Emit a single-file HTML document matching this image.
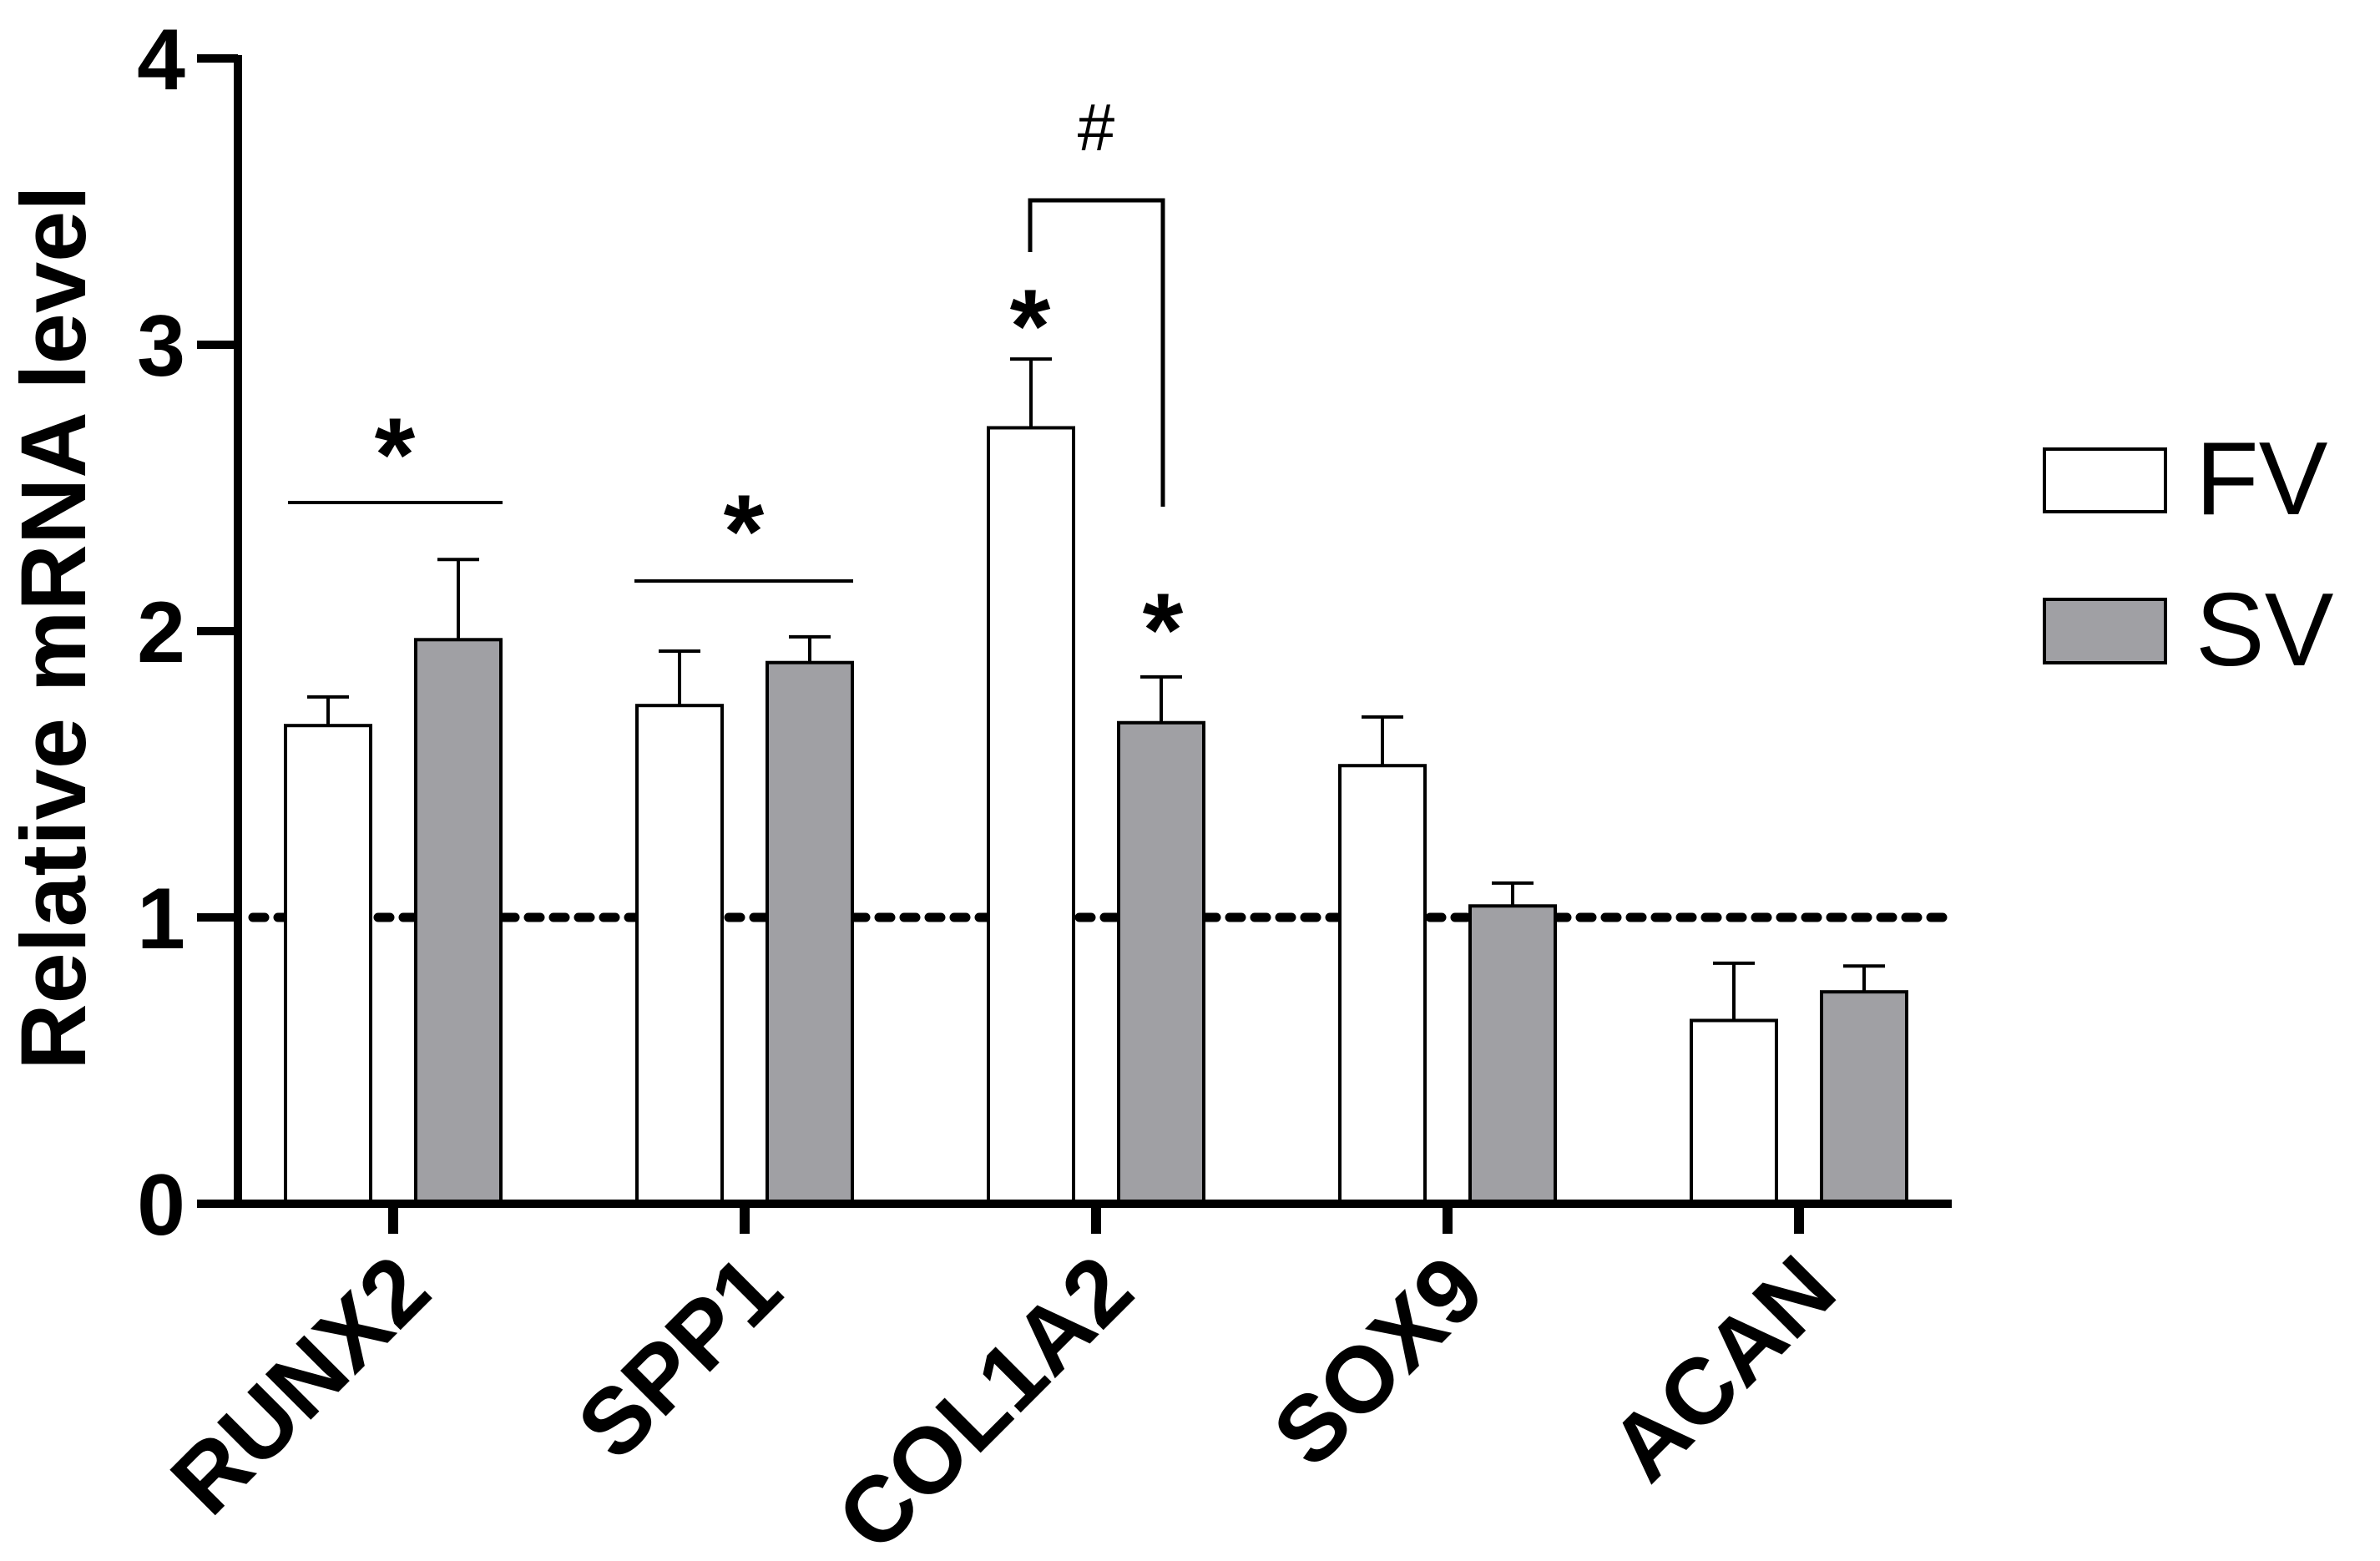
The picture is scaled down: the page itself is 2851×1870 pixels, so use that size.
<!DOCTYPE html>
<html><head><meta charset="utf-8"><style>body{margin:0;background:#fff}svg{display:block}</style></head>
<body>
<svg id="chart" width="2851" height="1870" xmlns="http://www.w3.org/2000/svg" font-family="Liberation Sans, Arial, sans-serif"></svg>
<script>
const categories = ["RUNX2","SPP1","COL1A2","SOX9","ACAN"];
const fvValues = [1.67,1.74,2.71,1.53,0.64];
const fvErrors = [0.10,0.19,0.24,0.17,0.20];
const svValues = [1.97,1.89,1.68,1.04,0.74];
const svErrors = [0.28,0.09,0.16,0.08,0.09];
const yTicks = [0,1,2,3,4];
const refLine = 1;

const NS="http://www.w3.org/2000/svg";
const svg=document.getElementById('chart');
const y0=1442, unit=343, x0=285, xEnd=2338;
const ys=v=>y0-v*unit;
const xs=i=>471+i*421;
function el(tag,attrs,parent){const e=document.createElementNS(NS,tag);for(const k in attrs)e.setAttribute(k,attrs[k]);(parent||svg).appendChild(e);return e;}

let rl=el('line',{x1:x0+18,x2:xEnd-8,y1:ys(refLine),y2:ys(refLine),stroke:'#000','stroke-width':11,'stroke-dasharray':'14 16','stroke-linecap':'round'});



categories.forEach((c,i)=>{
  [[fvValues,fvErrors,'#fff',-78,'fv'],[svValues,svErrors,'#a0a0a4',78,'sv']].forEach(([vals,errs,fill,off,nm])=>{
    const cx=xs(i)+off, v=vals[i], e=errs[i];
    const g=el('g',{});
    
    
    el('line',{x1:cx,x2:cx,y1:ys(v),y2:ys(v+e),stroke:'#000','stroke-width':4},g);
    el('line',{x1:cx-25,x2:cx+25,y1:ys(v+e),y2:ys(v+e),stroke:'#000','stroke-width':4},g);
    el('rect',{x:cx-51,y:ys(v),width:102,height:y0-ys(v),fill:fill,stroke:'#000','stroke-width':4},g);
  });
  const t=el('line',{x1:xs(i),x2:xs(i),y1:y0,y2:y0+36,stroke:'#000','stroke-width':12});
  
  
  const lx=xs(i)+50, ly=1552;
  const lab=el('text',{x:lx,y:ly,'text-anchor':'end','font-size':112,'font-weight':'bold',transform:`rotate(-45 ${lx} ${ly})`});
  lab.textContent=c;
  
  
});

let ya=el('line',{x1:x0,x2:x0,y1:ys(4)-4,y2:y0+5,stroke:'#000','stroke-width':10});


let xa=el('line',{x1:x0-5,x2:xEnd,y1:y0,y2:y0,stroke:'#000','stroke-width':10});


yTicks.forEach(v=>{
  const tk=el('line',{x1:236,x2:x0,y1:ys(v),y2:ys(v),stroke:'#000','stroke-width':10});
  
  
  const tl=el('text',{x:222,y:ys(v)+37,'text-anchor':'end','font-size':104,'font-weight':'bold'});
  tl.textContent=v;
  
  
});
const yt=el('text',{x:0,y:0,'text-anchor':'middle','font-size':110,'font-weight':'bold',transform:'translate(102 752) rotate(-90)'});
yt.textContent='Relative mRNA level';


</script>
<svg style="position:absolute;left:0;top:0" width="2851" height="1870" font-family="Liberation Sans, Arial, sans-serif">
  <line x1="345" x2="602" y1="602" y2="602" stroke="#000" stroke-width="4"/>
  <text x="473" y="588" font-size="125" font-weight="bold" text-anchor="middle">*</text>
  <line x1="760" x2="1022" y1="696" y2="696" stroke="#000" stroke-width="4"/>
  <text x="891" y="680" font-size="125" font-weight="bold" text-anchor="middle">*</text>
  <text x="1234" y="434" font-size="125" font-weight="bold" text-anchor="middle">*</text>
  <text x="1393" y="798" font-size="125" font-weight="bold" text-anchor="middle">*</text>
  <polyline points="1234,302 1234,240 1393,240 1393,607" fill="none" stroke="#000" stroke-width="5"/>
  <text x="1313" y="180" font-size="80" text-anchor="middle">#</text>
  <g>
    <rect x="2449" y="538" width="145" height="75" fill="#fff" stroke="#000" stroke-width="4"/>
    <text x="2630" y="616" font-size="124">FV</text>
    <rect x="2449" y="718" width="145" height="76" fill="#a0a0a4" stroke="#000" stroke-width="4"/>
    <text x="2630" y="797" font-size="124">SV</text>
  </g>
</svg>
</body></html>
